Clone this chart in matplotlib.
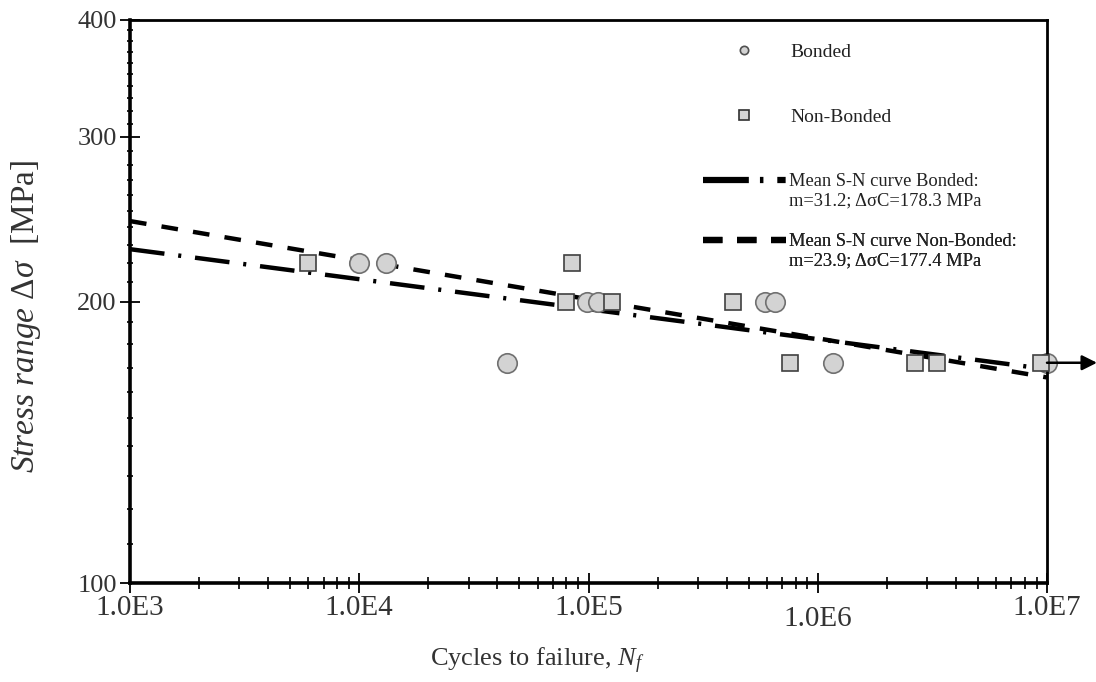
import matplotlib
matplotlib.use("Agg")
import matplotlib.pyplot as plt
from matplotlib.lines import Line2D
from matplotlib.ticker import FixedLocator, NullFormatter
from matplotlib.transforms import ScaledTranslation

plt.rcParams['font.family'] = ['Liberation Serif', 'DejaVu Serif']
plt.rcParams['mathtext.fontset'] = 'custom'
plt.rcParams['mathtext.rm'] = 'Liberation Serif'
plt.rcParams['mathtext.it'] = 'Liberation Serif:italic'
plt.rcParams['lines.scale_dashes'] = False

# ---- data ----
bonded_N = [1.0e4, 1.31e4, 4.4e4, 9.9e4, 1.1e5, 5.9e5, 6.5e5, 1.17e6, 1.0e7]
bonded_S = [220, 220, 172, 200, 200, 200, 200, 172, 172]

nonbonded_N = [6.0e3, 8.5e4, 8.0e4, 1.27e5, 4.25e5, 7.6e5, 2.65e6, 3.3e6, 9.4e6]
nonbonded_S = [220, 220, 200, 200, 200, 172, 172, 172, 172]

runout_N = [1.0e7]
runout_S = [172]

curve_N = [1.0e3, 1.0e7]
curve_bonded_S = [227.5, 169.3]
curve_nonbonded_S = [243.8, 165.9]

x_ticks = [1e3, 1e4, 1e5, 1e6, 1e7]
x_labels = ["1.0E3", "1.0E4", "1.0E5", "1.0E6", "1.0E7"]
y_ticks = [100, 200, 300, 400]
y_labels = ["100", "200", "300", "400"]

label_bonded = "Bonded"
label_nonbonded = "Non-Bonded"
label_curve_b = ["Mean S-N curve Bonded:", "m=31.2; \u0394\u03c3C=178.3 MPa"]
label_curve_nb = ["Mean S-N curve Non-Bonded:", "m=23.9; \u0394\u03c3C=177.4 MPa"]

# ---- figure ----
fig = plt.figure(figsize=(10.96, 6.82), dpi=100)
ax = fig.add_axes([130/1096, 1-583/682, (1047-130)/1096, (583-20)/682])
ax.set_xscale('log')
ax.set_yscale('log')
ax.set_xlim(1e3, 1e7)
ax.set_ylim(100, 400)

dash_b = (0, (25, 10, 2.2, 10))
dash_nb = (0, (12, 11))
ax.plot(curve_N, curve_bonded_S, color='black', lw=3.2, linestyle=dash_b, zorder=2)
ax.plot(curve_N, curve_nonbonded_S, color='black', lw=3.2, linestyle=dash_nb, zorder=2)

ax.plot(nonbonded_N, nonbonded_S, linestyle='none', marker='s', ms=12,
        mfc='#d3d3d3', mec='#404040', mew=1.2, zorder=3, clip_on=False)
ax.plot(bonded_N, bonded_S, linestyle='none', marker='o', ms=14,
        mfc='#d3d3d3', mec='#707070', mew=1.2, zorder=2.5, clip_on=False)

for n, s in zip(runout_N, runout_S):
    ax.annotate('', xy=(n, s), xytext=(36, 0), textcoords='offset points',
                arrowprops=dict(arrowstyle='<|-,head_length=0.9,head_width=0.45',
                                color='black', lw=1.8, shrinkA=0, shrinkB=0),
                annotation_clip=False)

# ticks
ax.xaxis.set_major_locator(FixedLocator(x_ticks))
ax.set_xticklabels(x_labels)
ax.yaxis.set_major_locator(FixedLocator(y_ticks))
ax.set_yticklabels(y_labels)
ax.xaxis.set_minor_locator(FixedLocator([m * 10**e for e in range(3, 7) for m in range(2, 10)]))
ax.yaxis.set_minor_locator(FixedLocator([v for v in range(110, 400, 10) if v not in (200, 300)]))
ax.xaxis.set_minor_formatter(NullFormatter())
ax.yaxis.set_minor_formatter(NullFormatter())
ax.tick_params(axis='both', which='major', direction='inout', length=15, width=1.3,
               colors='black')
ax.tick_params(axis='x', which='major', labelsize=21, pad=1)
ax.tick_params(axis='y', which='major', labelsize=19, pad=2)
ax.tick_params(axis='x', which='minor', direction='inout', length=8, width=1.2)
ax.tick_params(axis='y', which='minor', direction='inout', length=5, width=1.2)
for lab in ax.get_yticklabels() + ax.get_xticklabels():
    lab.set_color('#333333')
# the 1.0E6 label sits a little lower in the original
lab6 = ax.get_xticklabels()[3]
lab6.set_transform(lab6.get_transform() + ScaledTranslation(0, -11/100, fig.dpi_scale_trans))

for side in ['left', 'bottom']:
    ax.spines[side].set_linewidth(2.6)
for side in ['top', 'right']:
    ax.spines[side].set_linewidth(2.0)

fig.text(537/1096, 1-661/682, "Cycles to failure, $N_f$", fontsize=19, color='#333333',
         ha='center', va='center')
fig.text(26/1096, 1-316/682, r"$\mathit{Stress\ range\ \Delta\sigma}$  [MPa]", fontsize=24,
         color='#333333', ha='center', va='center', rotation=90)

# legends
h_b = Line2D([], [], linestyle='none', marker='o', ms=6, mfc='#d3d3d3', mec='#505050', mew=1.2)
h_nb = Line2D([], [], linestyle='none', marker='s', ms=7, mfc='#d3d3d3', mec='#303030', mew=1.2)
leg1 = ax.legend([h_b, h_nb], [label_bonded, label_nonbonded], loc='upper left',
                 bbox_to_anchor=(701/1096, 1-43/682), bbox_transform=fig.transFigure,
                 frameon=False, fontsize=14, labelspacing=2.45, handlelength=4.4,
                 handletextpad=0.2, borderpad=0, borderaxespad=0)
ax.add_artist(leg1)

h_blank = Line2D([], [], linestyle='none')
h_cb = Line2D([], [], color='black', lw=4.5, linestyle=(0, (33, 8, 2.5, 10, 6, 40)))
h_cnb = Line2D([], [], color='black', lw=4.5, linestyle=(0, (14, 10.5)))
tops = [173, 233]
for (h, lab), top in zip([(h_cb, label_curve_b), (h_cnb, label_curve_nb)], tops):
    lg = ax.legend([h, h_blank], lab, loc='upper left',
                   bbox_to_anchor=(703/1096, 1-top/682), bbox_transform=fig.transFigure,
                   frameon=False, fontsize=13.3, labelspacing=0.12, handlelength=4.5,
                   handletextpad=0.15, borderpad=0, borderaxespad=0)
    for t in lg.get_texts():
        t.set_color('#222222')
    ax.add_artist(lg)
for t in leg1.get_texts():
    t.set_color('#222222')

fig.savefig("out.png", dpi=100)
